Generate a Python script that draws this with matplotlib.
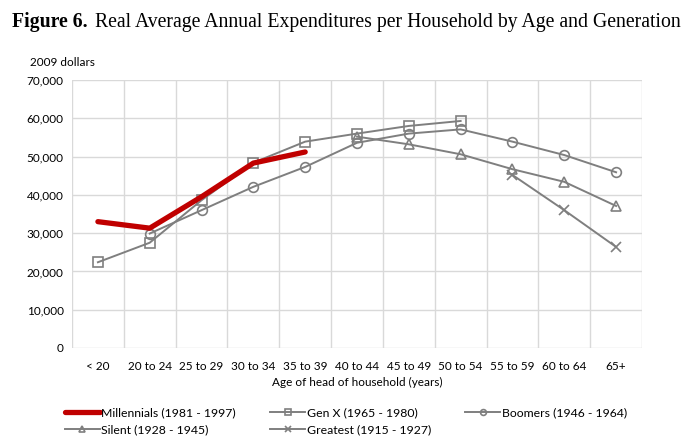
import matplotlib
matplotlib.use("Agg")
import matplotlib.pyplot as plt
import numpy as np

categories = ["< 20", "20 to 24", "25 to 29", "30 to 34", "35 to 39", "40 to 44",
              "45 to 49", "50 to 54", "55 to 59", "60 to 64", "65+"]
millennials = [33000, 31300, 39500, 48300, 51200, None, None, None, None, None, None]
genx = [22400, 27500, 38600, 48400, 53900, 56000, 58000, 59300, None, None, None]
boomers = [None, 29900, 36000, 42100, 47300, 53600, 56000, 57100, 53900, 50400, 45900]
silent = [None, None, None, None, None, 55200, 53200, 50600, 46700, 43400, 37100]
greatest = [None, None, None, None, None, None, None, None, 45200, 36000, 26400]
yticks = [0, 10000, 20000, 30000, 40000, 50000, 60000, 70000]

def arr(v):
    return np.array([np.nan if x is None else x for x in v], dtype=float)

W, H = 688, 445
fig = plt.figure(figsize=(W / 100, H / 100), dpi=100)
ax = fig.add_axes([72 / W, 1 - 348 / H, (642 - 72) / W, (348 - 80) / H])

x = np.arange(len(categories))
gray = "#7f7f7f"
font = "Lato"

ax.plot(x, arr(genx), color=gray, lw=1.4, marker="s", ms=7, mfc="none", mec=gray, mew=1.2,
        label="Gen X (1965 - 1980)", zorder=3)
ax.plot(x, arr(boomers), color=gray, lw=1.4, marker="o", ms=7, mfc="none", mec=gray, mew=1.2,
        label="Boomers (1946 - 1964)", zorder=3)
ax.plot(x, arr(silent), color=gray, lw=1.4, marker="^", ms=7, mfc="none", mec=gray, mew=1.2,
        label="Silent (1928 - 1945)", zorder=3)
ax.plot(x, arr(greatest), color=gray, lw=1.4, marker="x", ms=7, mec=gray, mew=1.2,
        label="Greatest (1915 - 1927)", zorder=3)
ax.plot(x, arr(millennials), color="#c00000", lw=3.8, solid_capstyle="round",
        label="Millennials (1981 - 1997)", zorder=4)

ax.set_xlim(-0.5, len(categories) - 0.5)
ax.set_ylim(0, 70000)
ax.set_yticks(yticks)
ax.set_yticklabels([f"{v:,}" for v in yticks], fontsize=8.5, family=font)
ax.set_xticks(x)
ax.set_xticklabels(categories, fontsize=8.5, family=font)
ax.tick_params(which="both", length=0)
ax.tick_params(axis="y", pad=6)
ax.tick_params(axis="x", pad=9)
ax.grid(False)
for v in yticks:
    ax.axhline(v, color="#d9d9d9", lw=1.0, zorder=0)
for xv in np.arange(-0.5, len(categories), 1):
    ax.axvline(xv, color="#d9d9d9", lw=1.0, zorder=0)
for s in ax.spines.values():
    s.set_visible(False)

ax.set_xlabel("Age of head of household (years)", fontsize=8.5, family=font, labelpad=4)

fig.text(30 / W, 1 - 62 / H, "2009 dollars", fontsize=8.5, family=font, va="center", ha="left")

t1 = fig.text(12 / W, 1 - 22 / H, "Figure 6.", fontsize=14.2, family="Liberation Serif",
              weight="bold", va="center", ha="left")
fig.canvas.draw()
bb = t1.get_window_extent(renderer=fig.canvas.get_renderer())
fig.text((bb.x1 + 7) / W, 1 - 22 / H, "Real Average Annual Expenditures per Household by Age and Generation",
         fontsize=14.2, family="Liberation Serif", va="center", ha="left")

h, l = ax.get_legend_handles_labels()
order = [4, 2, 0, 3, 1]
leg = fig.legend([h[i] for i in order], [l[i] for i in order], ncol=3,
                 loc="center", bbox_to_anchor=(346 / W, 1 - 421.5 / H), frameon=False,
                 prop={"family": font, "size": 8.8}, handlelength=2.85, handletextpad=0.15,
                 columnspacing=2.8, labelspacing=0.5, markerscale=0.6,
                 borderpad=0.2)

fig.savefig("out.png", dpi=100)
